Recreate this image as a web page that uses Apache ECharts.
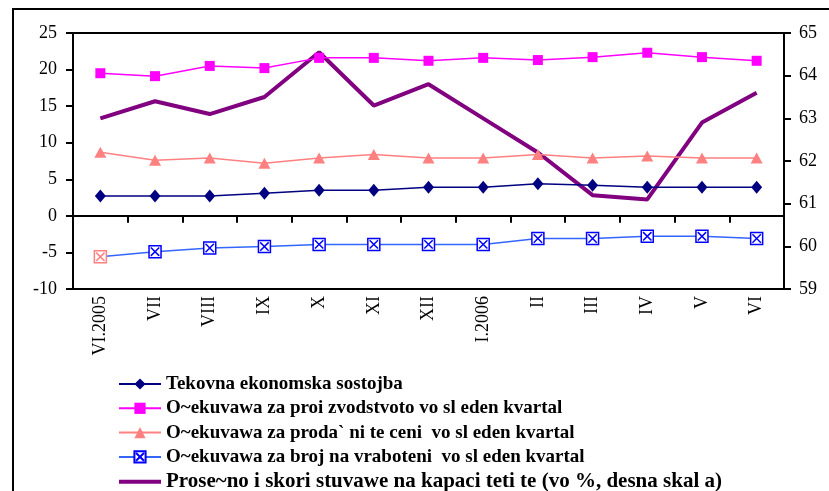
<!DOCTYPE html>
<html>
<head>
<meta charset="utf-8">
<script src="https://cdn.jsdelivr.net/npm/echarts@6/dist/echarts.min.js"></script>
<style>
  html, body { margin: 0; padding: 0; background: #fff; }
  #chart { width: 829px; height: 491px; }
</style>
</head>
<body>
<div id="chart"></div>
<script>
// mjeseci
var months = ["VI.2005", "VII", "VIII", "IX", "X", "XI", "XII", "I.2006", "II", "III", "IV", "V", "VI"];

// leva skala
var tekovna = [2.7, 2.7, 2.7, 3.1, 3.5, 3.5, 3.9, 3.9, 4.4, 4.2, 3.9, 3.9, 3.9];
var proizvodstvo = [19.5, 19.1, 20.5, 20.2, 21.6, 21.6, 21.2, 21.6, 21.3, 21.7, 22.3, 21.7, 21.2];
var ceni = [8.7, 7.6, 7.9, 7.2, 7.9, 8.4, 7.9, 7.9, 8.4, 7.9, 8.2, 7.9, 7.9];
var vraboteni = [-5.6, -4.9, -4.4, -4.2, -3.9, -3.9, -3.9, -3.9, -3.1, -3.1, -2.8, -2.8, -3.1];

// desna skala
var kapacitet = [63.0, 63.4, 63.1, 63.5, 64.55, 63.3, 63.8, 63.0, 62.2, 61.2, 61.1, 62.9, 63.6];

var names = [
  "Tekovna ekonomska sostojba",
  "O~ekuvawa za proi zvodstvoto vo sl eden kvartal",
  "O~ekuvawa za proda` ni te ceni  vo sl eden kvartal",
  "O~ekuvawa za broj na vraboteni  vo sl eden kvartal",
  "Prose~no i skori stuvawe na kapaci teti te (vo %, desna skal a)"
];

var font = "'Liberation Serif', 'Times New Roman', serif";
var boxX = "path://M0,0 L10,0 L10,10 L0,10 Z M1.5,1.5 L8.5,8.5 M8.5,1.5 L1.5,8.5";

// prvata tocka e so drugo obojuvanje
var vrabData = vraboteni.map(function (v, i) {
  if (i === 0) {
    return { value: v, itemStyle: { borderColor: "#ff8080" } };
  }
  return v;
});

var myChart = echarts.init(document.getElementById("chart"));
myChart.setOption({
  animation: false,
  textStyle: { fontFamily: font },
  graphic: [
    {
      type: "rect",
      shape: { x: 13, y: 9, width: 840, height: 510 },
      style: { fill: "none", stroke: "#000", lineWidth: 2 },
      silent: true
    }
  ],
  grid: {
    left: 73,
    right: 45,
    top: 33,
    bottom: 202,
    show: true,
    borderColor: "#000",
    borderWidth: 2,
    backgroundColor: "transparent"
  },
  legend: {
    orient: "vertical",
    left: 117,
    top: 374,
    height: 140,
    padding: 0,
    itemWidth: 42,
    itemHeight: 14,
    itemGap: 4.3,
    textStyle: {
      fontFamily: font,
      fontWeight: "bold",
      fontSize: 19,
      lineHeight: 20,
      color: "#000",
      rich: {
        big: { fontFamily: font, fontWeight: "bold", fontSize: 21, lineHeight: 20, color: "#000" }
      }
    },
    formatter: function (name) {
      // poslednata stavka e so pogolem font
      return name === names[4] ? "{big|" + name + "}" : name;
    },
    data: [
      names[0],
      names[1],
      names[2],
      names[3],
      { name: names[4], itemStyle: { opacity: 0 }, lineStyle: { width: 4 } }
    ]
  },
  xAxis: [
    {
      type: "category",
      data: months,
      position: "bottom",
      axisLine: { onZero: true, onZeroAxisIndex: 0, lineStyle: { color: "#000", width: 2 } },
      axisTick: { show: true, length: 7, lineStyle: { color: "#000", width: 2 } },
      axisLabel: { show: false },
      splitLine: { show: false }
    },
    {
      type: "category",
      data: months,
      position: "bottom",
      axisLine: { show: false, onZero: false },
      axisTick: { show: false },
      axisLabel: {
        rotate: 90,
        margin: 7,
        color: "#000",
        fontFamily: font,
        fontSize: 18
      },
      splitLine: { show: false }
    }
  ],
  yAxis: [
    {
      type: "value",
      min: -10,
      max: 25,
      interval: 5,
      position: "left",
      axisLine: { show: true, lineStyle: { color: "#000", width: 2 } },
      axisTick: { show: true, length: 7, lineStyle: { color: "#000", width: 2 } },
      axisLabel: { color: "#000", fontFamily: font, fontSize: 18, margin: 16 },
      splitLine: { show: false }
    },
    {
      type: "value",
      min: 59,
      max: 65,
      interval: 1,
      position: "right",
      axisLine: { show: true, lineStyle: { color: "#000", width: 2 } },
      axisTick: { show: true, length: 7, lineStyle: { color: "#000", width: 2 } },
      axisLabel: { color: "#000", fontFamily: font, fontSize: 18, margin: 15 },
      splitLine: { show: false }
    }
  ],
  series: [
    {
      name: names[0],
      type: "line",
      data: tekovna,
      symbol: "diamond",
      symbolSize: [11, 13],
      color: "#000080",
      lineStyle: { color: "#000080", width: 1.5 },
      itemStyle: { color: "#000080" },
      z: 4
    },
    {
      name: names[1],
      type: "line",
      data: proizvodstvo,
      symbol: "rect",
      symbolSize: 10,
      color: "#ff00ff",
      lineStyle: { color: "#ff00ff", width: 1.5 },
      itemStyle: { color: "#ff00ff" },
      z: 4
    },
    {
      name: names[2],
      type: "line",
      data: ceni,
      symbol: "triangle",
      symbolSize: [12, 11],
      color: "#ff8080",
      lineStyle: { color: "#ff8080", width: 1.5 },
      itemStyle: { color: "#ff8080" },
      z: 4
    },
    {
      name: names[3],
      type: "line",
      data: vrabData,
      symbol: boxX,
      symbolSize: 12,
      color: "#3366ff",
      lineStyle: { color: "#3366ff", width: 1.5 },
      itemStyle: { color: "#fff", borderColor: "#0000ff", borderWidth: 1.5 },
      z: 4
    },
    {
      name: names[4],
      type: "line",
      yAxisIndex: 1,
      data: kapacitet,
      symbol: "none",
      color: "#800080",
      lineStyle: { color: "#800080", width: 4 },
      z: 3
    }
  ]
});
</script>
</body>
</html>
